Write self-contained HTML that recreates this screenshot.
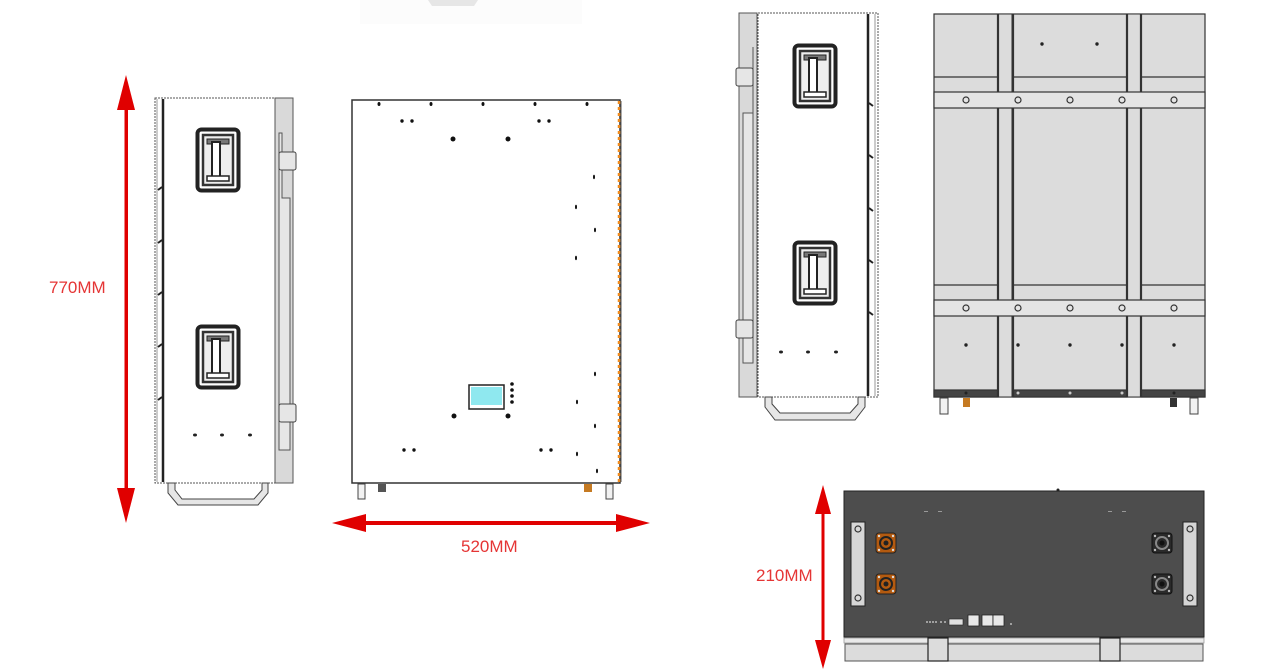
<!DOCTYPE html>
<html><head><meta charset="utf-8"><style>
html,body{margin:0;padding:0;background:#fff;}
svg{display:block;}
text{font-family:"Liberation Sans",sans-serif;}
</style></head><body>
<svg width="1278" height="672" viewBox="0 0 1278 672" xmlns="http://www.w3.org/2000/svg">
<defs>
<g id="hdl">
<rect x="1.5" y="1.5" width="41" height="61" rx="4" fill="#fff" stroke="#222" stroke-width="4"/>
<rect x="7" y="7" width="30" height="50" fill="#eee" stroke="#333" stroke-width="2.5"/>
<rect x="11" y="11" width="22" height="5" fill="#777" stroke="#222" stroke-width="1"/>
<rect x="16" y="14" width="8" height="36" fill="#fff" stroke="#222" stroke-width="2"/>
<rect x="11" y="48" width="22" height="5" fill="#fff" stroke="#222" stroke-width="1.5"/>
</g>
<g id="conO">
<rect x="-10" y="-10" width="20" height="20" rx="3" fill="#b35a10" stroke="#222" stroke-width="1"/>
<circle r="6" fill="none" stroke="#222" stroke-width="2"/><circle r="2.5" fill="#222"/>
<circle cx="-7" cy="-7" r="1.2" fill="#ddd"/><circle cx="7" cy="-7" r="1.2" fill="#ddd"/><circle cx="-7" cy="7" r="1.2" fill="#ddd"/><circle cx="7" cy="7" r="1.2" fill="#ddd"/>
</g>
<g id="conB">
<rect x="-10" y="-10" width="20" height="20" rx="3" fill="#2a2a2a" stroke="#111" stroke-width="1"/>
<circle r="6" fill="none" stroke="#888" stroke-width="2"/><circle r="2.5" fill="#111"/>
<circle cx="-7" cy="-7" r="1.2" fill="#bbb"/><circle cx="7" cy="-7" r="1.2" fill="#bbb"/><circle cx="-7" cy="7" r="1.2" fill="#bbb"/><circle cx="7" cy="7" r="1.2" fill="#bbb"/>
</g>
</defs>

<rect x="360" y="0" width="222" height="24" fill="#fcfcfc"/>
<path d="M428 0 L478 0 L474 6 L432 6 Z" fill="#e6e6e6"/>

<g fill="#e00000" stroke="none">
<rect x="124.5" y="105" width="3.5" height="390"/>
<polygon points="126,75 117,110 135,110"/>
<polygon points="126,523 117,488 135,488"/>
<rect x="362" y="521" width="258" height="4"/>
<polygon points="332,523 366,514 366,532"/>
<polygon points="650,523 616,514 616,532"/>
<rect x="821.5" y="510" width="3" height="135"/>
<polygon points="823,485 815,514 831,514"/>
<polygon points="823,669 815,640 831,640"/>
</g>
<g fill="#e53535" font-size="17">
<text x="49" y="293">770MM</text>
<text x="461" y="552">520MM</text>
<text x="756" y="581">210MM</text>
</g>

<g>
<rect x="155" y="98" width="120" height="385" fill="#fff" stroke="#555" stroke-width="1" stroke-dasharray="2 1"/>
<line x1="157" y1="99" x2="157" y2="482" stroke="#999" stroke-width="1"/>
<line x1="163" y1="99" x2="163" y2="482" stroke="#222" stroke-width="2.5"/>
<g stroke="#222" stroke-width="2"><line x1="158" y1="190" x2="162" y2="187"/><line x1="158" y1="243" x2="162" y2="240"/><line x1="158" y1="295" x2="162" y2="292"/><line x1="158" y1="347" x2="162" y2="344"/><line x1="158" y1="400" x2="162" y2="397"/></g>
<path d="M275 98 H293 V483 H275 Z" fill="#d9d9d9" stroke="#555" stroke-width="1"/>
<path d="M279 133 H282 V198 H290 V450 H279 Z" fill="#e6e6e6" stroke="#555" stroke-width="1"/>
<rect x="279" y="152" width="17" height="18" rx="2" fill="#e6e6e6" stroke="#444" stroke-width="1"/>
<rect x="279" y="404" width="17" height="18" rx="2" fill="#e6e6e6" stroke="#444" stroke-width="1"/>
<use href="#hdl" x="196" y="128"/>
<use href="#hdl" x="196" y="325"/>
<g fill="#222"><ellipse cx="195" cy="435" rx="2" ry="1.5"/><ellipse cx="222" cy="435" rx="2" ry="1.5"/><ellipse cx="250" cy="435" rx="2" ry="1.5"/></g>
<path d="M168 483 V493 L178 505 H258 L268 493 V483 H262 V490 L254 499 H182 L175 490 V483 Z" fill="#e6e6e6" stroke="#444" stroke-width="1"/>
</g>

<g>
<rect x="352" y="100" width="268" height="383" fill="#fff" stroke="#333" stroke-width="1.5"/>
<line x1="619" y1="101" x2="619" y2="482" stroke="#f08a1c" stroke-width="2.5" stroke-dasharray="3 3"/>
<line x1="621" y1="101" x2="621" y2="482" stroke="#555" stroke-width="1"/>
<g fill="#111">
<ellipse cx="379" cy="104" rx="1.5" ry="2"/><ellipse cx="431" cy="104" rx="1.5" ry="2"/><ellipse cx="483" cy="104" rx="1.5" ry="2"/><ellipse cx="535" cy="104" rx="1.5" ry="2"/><ellipse cx="587" cy="104" rx="1.5" ry="2"/>
<circle cx="402" cy="121" r="1.7"/><circle cx="412" cy="121" r="1.7"/><circle cx="539" cy="121" r="1.7"/><circle cx="549" cy="121" r="1.7"/>
<circle cx="453" cy="139" r="2.5"/><circle cx="508" cy="139" r="2.5"/>
<circle cx="454" cy="416" r="2.5"/><circle cx="508" cy="416" r="2.5"/>
<circle cx="404" cy="450" r="1.7"/><circle cx="414" cy="450" r="1.7"/><circle cx="541" cy="450" r="1.7"/><circle cx="551" cy="450" r="1.7"/>
<ellipse cx="594" cy="177" rx="1" ry="2.2"/><ellipse cx="576" cy="207" rx="1" ry="2.2"/><ellipse cx="595" cy="230" rx="1" ry="2.2"/><ellipse cx="576" cy="258" rx="1" ry="2.2"/>
<ellipse cx="595" cy="374" rx="1" ry="2.2"/><ellipse cx="577" cy="402" rx="1" ry="2.2"/><ellipse cx="595" cy="426" rx="1" ry="2.2"/><ellipse cx="577" cy="454" rx="1" ry="2.2"/><ellipse cx="597" cy="471" rx="1" ry="2.2"/>
<circle cx="512" cy="384" r="1.8"/><circle cx="512" cy="390" r="1.8"/><circle cx="512" cy="396" r="1.8"/><circle cx="512" cy="402" r="1.8"/>
</g>
<rect x="469" y="385" width="35" height="24" fill="#fff" stroke="#222" stroke-width="1.5"/>
<rect x="471" y="387" width="31" height="18" fill="#8fe8ef"/>
<g stroke="#444" stroke-width="1" fill="#f2f2f2">
<rect x="358" y="484" width="7" height="15"/><rect x="606" y="484" width="7" height="15"/>
</g>
<rect x="378" y="484" width="8" height="8" fill="#555"/>
<rect x="584" y="484" width="8" height="8" fill="#c57a22"/>
</g>

<g>
<rect x="758" y="13" width="120" height="384" fill="#fff" stroke="#555" stroke-width="1" stroke-dasharray="2 1"/>
<line x1="868" y1="14" x2="868" y2="396" stroke="#222" stroke-width="2.5"/>
<line x1="875" y1="14" x2="875" y2="396" stroke="#999" stroke-width="1"/>
<g stroke="#222" stroke-width="2"><line x1="869" y1="103" x2="873" y2="106"/><line x1="869" y1="155" x2="873" y2="158"/><line x1="869" y1="208" x2="873" y2="211"/><line x1="869" y1="260" x2="873" y2="263"/><line x1="869" y1="312" x2="873" y2="315"/></g>
<path d="M739 13 H757 V397 H739 Z" fill="#d9d9d9" stroke="#555" stroke-width="1"/>
<path d="M753 47 V113 H743 V363 H753 Z" fill="#e6e6e6" stroke="#555" stroke-width="1"/>
<rect x="736" y="68" width="17" height="18" rx="2" fill="#e6e6e6" stroke="#444" stroke-width="1"/>
<rect x="736" y="320" width="17" height="18" rx="2" fill="#e6e6e6" stroke="#444" stroke-width="1"/>
<use href="#hdl" x="793" y="44"/>
<use href="#hdl" x="793" y="241"/>
<g fill="#222"><ellipse cx="781" cy="352" rx="2" ry="1.5"/><ellipse cx="808" cy="352" rx="2" ry="1.5"/><ellipse cx="836" cy="352" rx="2" ry="1.5"/></g>
<path d="M765 397 V407 L775 420 H855 L865 407 V397 H858 V404 L850 413 H780 L772 404 V397 Z" fill="#e6e6e6" stroke="#444" stroke-width="1"/>
</g>

<g stroke="#333" stroke-width="1.2">
<rect x="934" y="14" width="271" height="383" fill="#dcdcdc"/>
<line x1="934" y1="77" x2="1205" y2="77"/>
<line x1="934" y1="285" x2="1205" y2="285"/>
<rect x="998" y="14" width="14" height="383" fill="#dcdcdc" stroke-width="1"/>
<rect x="1127" y="14" width="14" height="383" fill="#dcdcdc" stroke-width="1"/>
<rect x="934" y="92" width="271" height="16" fill="#e4e4e4"/>
<rect x="934" y="300" width="271" height="16" fill="#e4e4e4"/>
<rect x="934" y="390" width="64" height="7" fill="#444"/>
<rect x="1013" y="390" width="114" height="7" fill="#444"/>
<rect x="1141" y="390" width="64" height="7" fill="#444"/>
</g>
<g stroke="#333" stroke-width="2.2">
<line x1="998" y1="14" x2="998" y2="92"/><line x1="1013" y1="14" x2="1013" y2="92"/><line x1="1127" y1="14" x2="1127" y2="92"/><line x1="1141" y1="14" x2="1141" y2="92"/>
<line x1="998" y1="108" x2="998" y2="300"/><line x1="1013" y1="108" x2="1013" y2="300"/><line x1="1127" y1="108" x2="1127" y2="300"/><line x1="1141" y1="108" x2="1141" y2="300"/>
<line x1="998" y1="316" x2="998" y2="397"/><line x1="1013" y1="316" x2="1013" y2="397"/><line x1="1127" y1="316" x2="1127" y2="397"/><line x1="1141" y1="316" x2="1141" y2="397"/>
</g>
<g fill="none" stroke="#333" stroke-width="1.2">
<circle cx="966" cy="100" r="3"/><circle cx="1018" cy="100" r="3"/><circle cx="1070" cy="100" r="3"/><circle cx="1122" cy="100" r="3"/><circle cx="1174" cy="100" r="3"/>
<circle cx="966" cy="308" r="3"/><circle cx="1018" cy="308" r="3"/><circle cx="1070" cy="308" r="3"/><circle cx="1122" cy="308" r="3"/><circle cx="1174" cy="308" r="3"/>
</g>
<g fill="#222">
<circle cx="1042" cy="44" r="1.7"/><circle cx="1097" cy="44" r="1.7"/>
<circle cx="966" cy="345" r="1.7"/><circle cx="1018" cy="345" r="1.7"/><circle cx="1070" cy="345" r="1.7"/><circle cx="1122" cy="345" r="1.7"/><circle cx="1174" cy="345" r="1.7"/>
<circle cx="966" cy="393" r="1.5"/><circle cx="1018" cy="393" r="1.5" fill="#ccc"/><circle cx="1070" cy="393" r="1.5" fill="#ccc"/><circle cx="1122" cy="393" r="1.5" fill="#ccc"/><circle cx="1174" cy="393" r="1.5"/>
</g>
<g stroke="#444" stroke-width="1" fill="#f2f2f2">
<rect x="940" y="398" width="8" height="16"/><rect x="1190" y="398" width="8" height="16"/>
</g>
<rect x="963" y="398" width="7" height="9" fill="#c57a22"/>
<rect x="1170" y="398" width="7" height="9" fill="#333"/>

<g>
<rect x="844" y="491" width="360" height="146" fill="#4d4d4d" stroke="#222" stroke-width="1"/>
<rect x="844" y="638" width="360" height="5" fill="#eaeaea" stroke="#999" stroke-width="0.8"/>
<rect x="845" y="644" width="358" height="17" fill="#dcdcdc" stroke="#555" stroke-width="1"/>
<rect x="928" y="638" width="20" height="23" fill="#dcdcdc" stroke="#222" stroke-width="1.2"/>
<rect x="1100" y="638" width="20" height="23" fill="#dcdcdc" stroke="#222" stroke-width="1.2"/>
<rect x="851" y="522" width="14" height="84" fill="#d6d6d6" stroke="#222" stroke-width="1"/>
<rect x="1183" y="522" width="14" height="84" fill="#d6d6d6" stroke="#222" stroke-width="1"/>
<g fill="none" stroke="#333" stroke-width="1.2">
<circle cx="858" cy="529" r="3"/><circle cx="858" cy="598" r="3"/><circle cx="1190" cy="529" r="3"/><circle cx="1190" cy="598" r="3"/>
</g>
<use href="#conO" x="886" y="543"/>
<use href="#conO" x="886" y="584"/>
<use href="#conB" x="1162" y="543"/>
<use href="#conB" x="1162" y="584"/>
<rect x="949" y="619" width="14" height="6" fill="#e0e0e0" stroke="#222" stroke-width="0.6"/>
<rect x="968" y="615" width="11" height="11" fill="#e8e8e8" stroke="#222" stroke-width="0.8"/>
<rect x="982" y="615" width="11" height="11" fill="#e8e8e8" stroke="#222" stroke-width="0.8"/>
<rect x="993" y="615" width="11" height="11" fill="#e8e8e8" stroke="#222" stroke-width="0.8"/>
<g fill="#bbb"><circle cx="927" cy="622" r="1"/><circle cx="930" cy="622" r="1"/><circle cx="933" cy="622" r="1"/><circle cx="936" cy="622" r="1"/><circle cx="941" cy="622" r="1"/><circle cx="945" cy="622" r="1"/><circle cx="1011" cy="624" r="1"/></g>
<g fill="#222"><circle cx="1058" cy="490" r="1.5"/></g>
<g fill="#999"><rect x="924" y="511" width="4" height="1"/><rect x="938" y="511" width="4" height="1"/><rect x="1108" y="511" width="4" height="1"/><rect x="1122" y="511" width="4" height="1"/></g>
</g>
</svg>
</body></html>
